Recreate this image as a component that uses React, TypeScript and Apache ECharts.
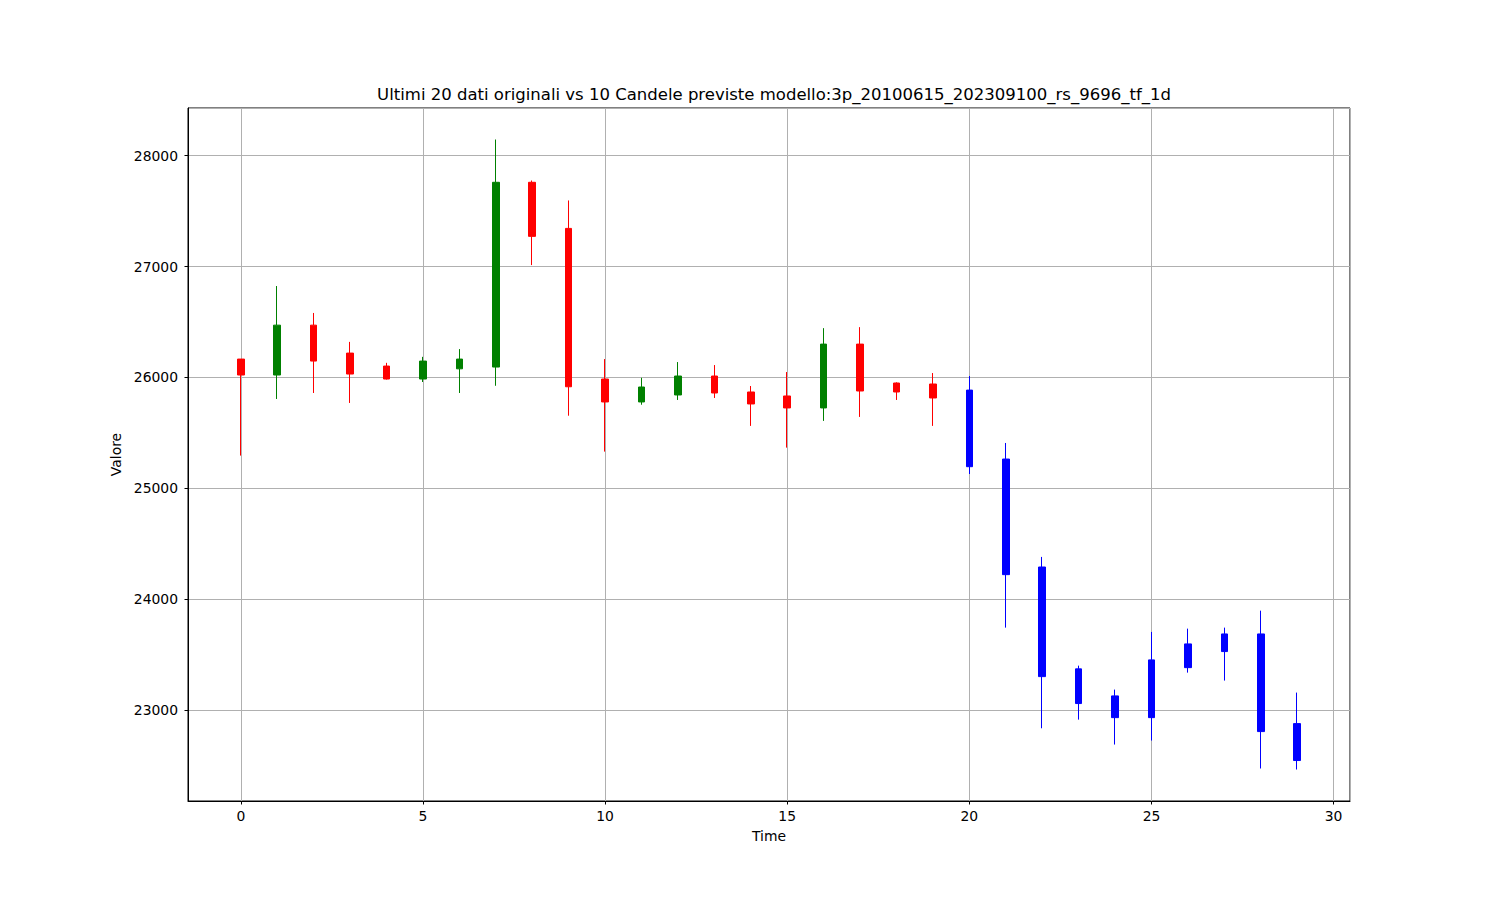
import React, { useEffect, useRef } from "react";
import * as echarts from "echarts";

const TITLE = "Ultimi 20 dati originali vs 10 Candele previste modello:3p_20100615_202309100_rs_9696_tf_1d";
const X_NAME = "Time";
const Y_NAME = "Valore";

// Original data (last 20)
const origTime = [0, 1, 2, 3, 4, 5, 6, 7, 8, 9, 10, 11, 12, 13, 14, 15, 16, 17, 18, 19];
const origOpen = [26165, 26021, 26471, 26219, 26102, 25985, 26077, 26093, 27760, 27344, 25985, 25778, 25841, 26012, 25868, 25832, 25724, 26300, 25949, 25940];
const origClose = [26021, 26471, 26147, 26030, 25985, 26147, 26165, 27760, 27272, 25915, 25778, 25913, 26012, 25859, 25760, 25724, 26300, 25877, 25868, 25814];
const origLow = [25294, 25805, 25859, 25769, 25980, 25958, 25859, 25924, 27013, 25654, 25330, 25753, 25796, 25814, 25562, 25366, 25607, 25643, 25796, 25562];
const origHigh = [26165, 26824, 26581, 26320, 26131, 26185, 26255, 28146, 27776, 27596, 26165, 25996, 26138, 26111, 25922, 26048, 26444, 26453, 25955, 26039];

// Forecast candles (10)
const predTime = [20, 21, 22, 23, 24, 25, 26, 27, 28, 29];
const predOpen = [25885, 25263, 24289, 23370, 22930, 22930, 23381, 23526, 23685, 22876];
const predClose = [25194, 24220, 23300, 23057, 23126, 23451, 23595, 23685, 22804, 22543];
const predLow = [25128, 23742, 22834, 22912, 22687, 22723, 23336, 23264, 22471, 22462];
const predHigh = [26012, 25408, 24380, 23399, 23183, 23703, 23733, 23742, 23895, 23156];

const FONT = "DejaVu Sans";

export default function App() {
  const ref = useRef<HTMLDivElement>(null);
  useEffect(() => {
    if (!ref.current) return;
    const chart = echarts.init(ref.current, undefined, { renderer: "svg" });
    const origData = origTime.map((t, i) => [t, origOpen[i], origClose[i], origLow[i], origHigh[i]]);
    const predData = predTime.map((t, i) => [t, predOpen[i], predClose[i], predLow[i], predHigh[i]]);
    const pad = (v: { min: number; max: number }) => 0.05 * (v.max - v.min);
    chart.setOption({
      animation: false,
      backgroundColor: "#ffffff",
      title: {
        text: TITLE,
        left: 769,
        top: 81,
        textAlign: "center",
        textStyle: { fontFamily: FONT, fontSize: 16.5, fontWeight: "normal", color: "#000" },
      },
      grid: {
        left: 188,
        right: 150,
        top: 108,
        bottom: 99,
        show: true,
        borderColor: "#000",
        borderWidth: 1,
        containLabel: false,
      },
      xAxis: {
        type: "value",
        min: (v: any) => v.min - pad(v),
        max: (v: any) => v.max + pad(v),
        minInterval: 5,
        maxInterval: 5,
        name: X_NAME,
        nameLocation: "middle",
        nameGap: 28,
        nameTextStyle: { fontFamily: FONT, fontSize: 13.9, color: "#000" },
        axisLine: { show: true, onZero: false, lineStyle: { color: "#000", width: 1 } },
        axisTick: { show: true, length: 3.5, lineStyle: { color: "#000" } },
        axisLabel: {
          fontFamily: FONT,
          fontSize: 13.9,
          color: "#000",
          margin: 8,
          showMinLabel: false,
          showMaxLabel: false,
          formatter: (v: number) => String(v),
        },
        splitLine: { show: true, lineStyle: { color: "#b0b0b0", width: 1 } },
      },
      yAxis: {
        type: "value",
        scale: true,
        min: (v: any) => v.min - pad(v),
        max: (v: any) => v.max + pad(v),
        minInterval: 1000,
        maxInterval: 1000,
        name: Y_NAME,
        nameLocation: "middle",
        nameGap: 60,
        nameTextStyle: { fontFamily: FONT, fontSize: 13.9, color: "#000" },
        axisLine: { show: true, onZero: false, lineStyle: { color: "#000", width: 1 } },
        axisTick: { show: true, length: 3.5, lineStyle: { color: "#000" } },
        axisLabel: {
          fontFamily: FONT,
          fontSize: 13.9,
          color: "#000",
          margin: 10,
          showMinLabel: false,
          showMaxLabel: false,
          formatter: (v: number) => String(v),
        },
        splitLine: { show: true, lineStyle: { color: "#b0b0b0", width: 1 } },
      },
      series: [
        {
          type: "candlestick",
          name: "Originali",
          data: origData,
          barWidth: 7,
          itemStyle: {
            color: "green",
            color0: "red",
            borderColor: "green",
            borderColor0: "red",
            borderWidth: 1,
          },
        },
        {
          type: "candlestick",
          name: "Previste",
          data: predData,
          barWidth: 7,
          itemStyle: {
            color: "blue",
            color0: "blue",
            borderColor: "blue",
            borderColor0: "blue",
            borderWidth: 1,
          },
        },
      ],
    });
    return () => chart.dispose();
  }, []);
  return (
    <div
      ref={ref}
      style={{ position: "fixed", left: 0, top: 0, width: 1500, height: 900, background: "#fff" }}
    />
  );
}
